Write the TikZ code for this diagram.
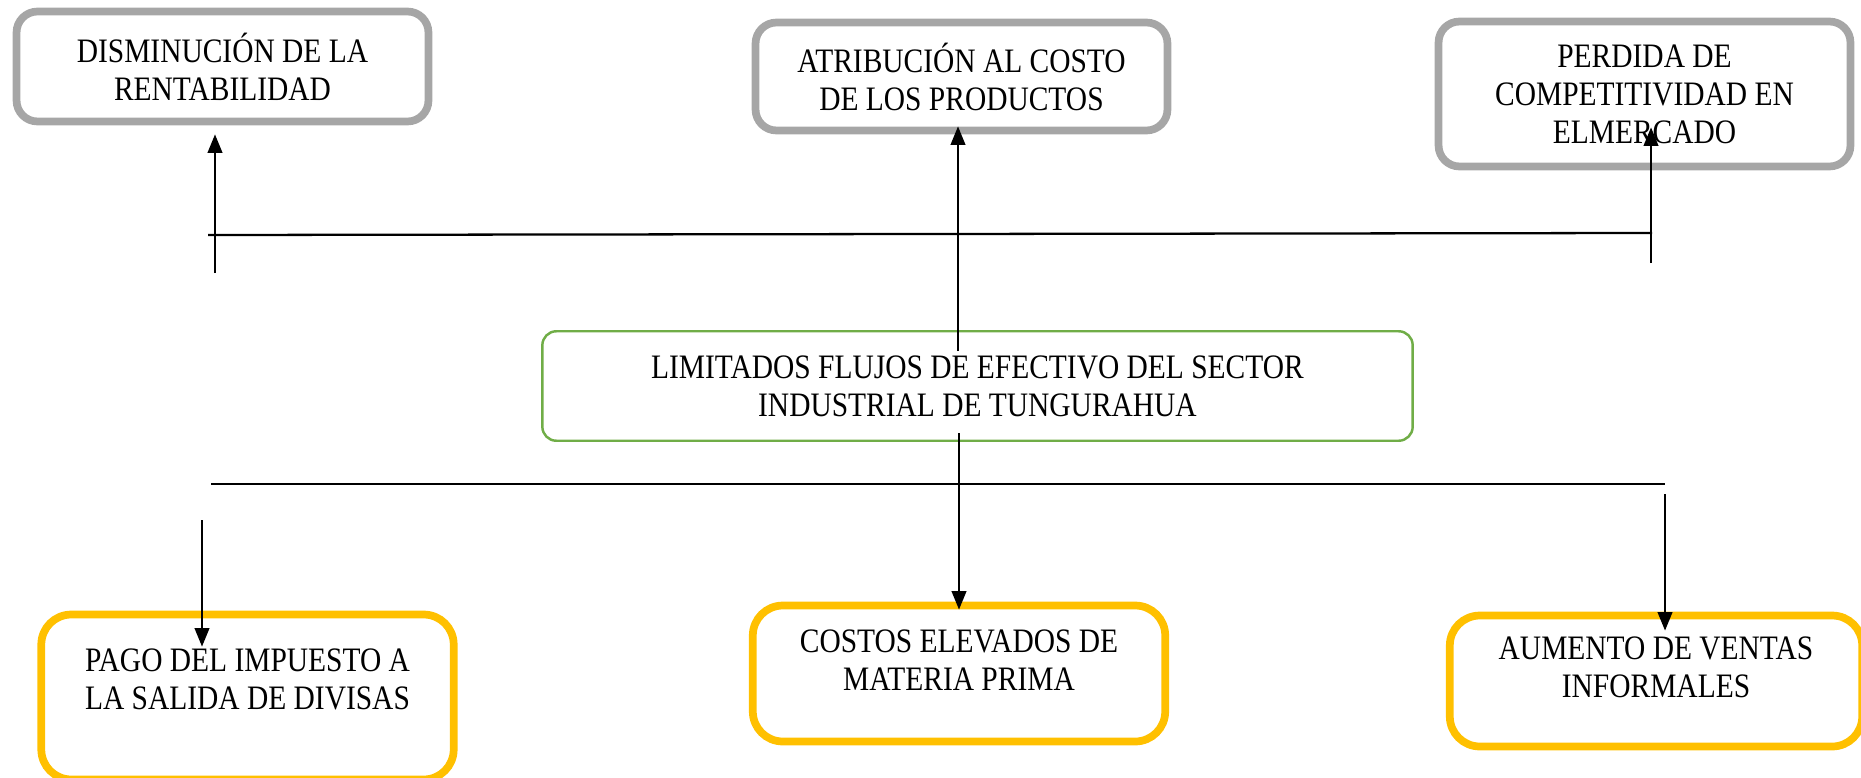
\documentclass[tikz,border=0pt]{standalone}
\usepackage{fontspec}
\setmainfont{Liberation Serif}[FakeStretch=0.86]
\usetikzlibrary{arrows.meta}
\definecolor{grisborde}{HTML}{A6A6A6}
\definecolor{amarillo}{HTML}{FFC000}
\definecolor{verde}{HTML}{70AD47}
\tikzset{
  texto/.style={align=center, font=\fontsize{19.5}{21.6}\selectfont},
  efecto/.style={texto, draw=grisborde, line width=4.4pt, rounded corners=0.42cm,
    minimum width=8.24cm},
  causa/.style={texto, draw=amarillo, line width=4.4pt, rounded corners=0.6cm,
    minimum width=8.25cm, text depth=0.55cm},
  problema/.style={texto, draw=verde, line width=1.4pt, rounded corners=0.28cm,
    minimum width=17.41cm, minimum height=2.19cm},
  linea/.style={line width=1.3pt},
  flecha/.style={line width=1.3pt, -{Triangle[length=0.37cm,width=0.29cm]}}
}
\begin{document}
\begin{tikzpicture}[x=0.02cm, y=-0.02cm]
        \useasboundingbox (0,0) rectangle (1861,777);

        % Efectos
        \node[efecto, minimum height=2.2cm] (ef1) at (222.5,66.5) {DISMINUCIÓN DE LA\\RENTABILIDAD};
        \node[efecto, minimum height=2.16cm] (ef2) at (961.5,76.5) {ATRIBUCIÓN AL COSTO\\DE LOS PRODUCTOS};
        \node[efecto, minimum height=2.9cm] (ef3) at (1644.5,94) {PERDIDA DE\\COMPETITIVIDAD EN\\ELMERCADO};

        % Problema central
        \node[problema] (prob) at (977.5,386) {LIMITADOS FLUJOS DE EFECTIVO DEL SECTOR\\INDUSTRIAL DE TUNGURAHUA};

        % Causas
        \node[causa, minimum height=3.3cm, text depth=0.7cm] (ca1) at (247.5,697) {PAGO DEL IMPUESTO A\\LA SALIDA DE DIVISAS};
        \node[causa, minimum height=2.72cm] (ca2) at (959,673.5) {COSTOS ELEVADOS DE\\MATERIA PRIMA};
        \node[causa, minimum height=2.62cm] (ca3) at (1656,681) {AUMENTO DE VENTAS\\INFORMALES};

        % Linea superior y flechas hacia los efectos
        \coordinate (sup1) at (208,235);
        \coordinate (sup2) at (1652,233);
        \coordinate (ini1) at (215,273);
        \coordinate (ini2) at (958,351);
        \coordinate (ini3) at (1651,263);
        \draw[linea] (sup1) -- (sup2);
        \draw[flecha] (ini1) -- ([yshift=-0.18cm]ini1 |- ef1.south);
        \draw[flecha] (ini2) -- ([yshift=0.16cm]ini2 |- ef2.south);
        \draw[flecha] (ini3) -- ([yshift=0.86cm]ini3 |- ef3.south);

        % Linea inferior y flechas hacia las causas
        \coordinate (inf1) at (211,484);
        \coordinate (inf2) at (1665,484);
        \coordinate (sal1) at (202,520);
        \coordinate (sal2) at (959,433);
        \coordinate (sal3) at (1665,494);
        \draw[linea] (inf1) -- (inf2);
        \draw[flecha] (sal1) -- ([yshift=-0.72cm]sal1 |- ca1.north);
        \draw[flecha] (sal2) -- ([yshift=-0.16cm]sal2 |- ca2.north);
        \draw[flecha] (sal3) -- ([yshift=-0.38cm]sal3 |- ca3.north);

\end{tikzpicture}
\end{document}
